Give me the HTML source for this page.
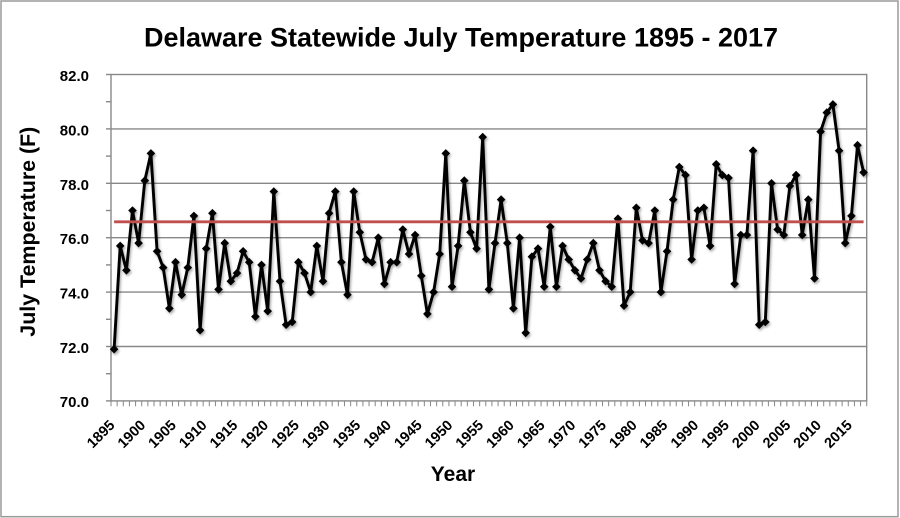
<!DOCTYPE html>
<html>
<head>
<meta charset="utf-8">
<style>
  html,body{margin:0;padding:0;background:#fff;}
  svg{display:block;}
  text{font-family:"Liberation Sans",Arial,sans-serif;font-weight:bold;fill:#000;}
</style>
</head>
<body>
<svg width="900" height="518" viewBox="0 0 900 518" xmlns="http://www.w3.org/2000/svg">
  <defs>
    <marker id="dm" markerUnits="userSpaceOnUse" markerWidth="12" markerHeight="12" refX="6" refY="6" viewBox="0 0 12 12" overflow="visible">
      <path d="M6,1.7 L10.3,6 L6,10.3 L1.7,6 Z" fill="#000"/>
    </marker>
    <filter id="sh" x="-5%" y="-5%" width="110%" height="115%">
      <feDropShadow dx="1.2" dy="1.8" stdDeviation="1.2" flood-color="#000" flood-opacity="0.35"/>
    </filter>
  </defs>

  <rect x="0" y="0" width="900" height="518" fill="#fff"/>
  <rect x="1" y="1" width="897" height="515.7" fill="none" stroke="#9a9a9a" stroke-width="1.5"/>

  <!-- Title -->
  <text x="461" y="46.7" font-size="27" text-anchor="middle" textLength="634" lengthAdjust="spacingAndGlyphs">Delaware Statewide July Temperature 1895 - 2017</text>

  <!-- Gridlines -->
  <g stroke="#888" stroke-width="1.4" fill="none">
    <line x1="111" y1="128.9" x2="866.7" y2="128.9"/>
    <line x1="111" y1="183.3" x2="866.7" y2="183.3"/>
    <line x1="111" y1="237.7" x2="866.7" y2="237.7"/>
    <line x1="111" y1="292.1" x2="866.7" y2="292.1"/>
    <line x1="111" y1="346.5" x2="866.7" y2="346.5"/>
    <rect x="111" y="74.5" width="755.7" height="326.4"/>
    <!-- y ticks -->
    <line x1="106" y1="74.5" x2="111" y2="74.5"/>
    <line x1="106" y1="101.7" x2="111" y2="101.7"/>
    <line x1="106" y1="128.9" x2="111" y2="128.9"/>
    <line x1="106" y1="156.1" x2="111" y2="156.1"/>
    <line x1="106" y1="183.3" x2="111" y2="183.3"/>
    <line x1="106" y1="210.5" x2="111" y2="210.5"/>
    <line x1="106" y1="237.7" x2="111" y2="237.7"/>
    <line x1="106" y1="264.9" x2="111" y2="264.9"/>
    <line x1="106" y1="292.1" x2="111" y2="292.1"/>
    <line x1="106" y1="319.3" x2="111" y2="319.3"/>
    <line x1="106" y1="346.5" x2="111" y2="346.5"/>
    <line x1="106" y1="373.7" x2="111" y2="373.7"/>
    <line x1="106" y1="400.9" x2="111" y2="400.9"/>
  </g>
  <!-- x ticks -->
  <line x1="110.5" y1="403.8" x2="867.5" y2="403.8" stroke="#888" stroke-width="5" stroke-dasharray="1 5.144"/>

  <!-- Y tick labels -->
  <g font-size="15" text-anchor="end">
    <text x="89" y="81">82.0</text>
    <text x="89" y="135.4">80.0</text>
    <text x="89" y="189.8">78.0</text>
    <text x="89" y="244.2">76.0</text>
    <text x="89" y="298.6">74.0</text>
    <text x="89" y="353">72.0</text>
    <text x="89" y="407.2">70.0</text>
  </g>

  <!-- Y axis title -->
  <text transform="translate(35,231.7) rotate(-90)" font-size="21" text-anchor="middle" textLength="210" lengthAdjust="spacingAndGlyphs">July Temperature (F)</text>

  <!-- X tick labels -->
  <g font-size="14.5" text-anchor="end">
    <text transform="translate(115.6,426) rotate(-45)">1895</text>
    <text transform="translate(146.3,426) rotate(-45)">1900</text>
    <text transform="translate(177,426) rotate(-45)">1905</text>
    <text transform="translate(207.7,426) rotate(-45)">1910</text>
    <text transform="translate(238.5,426) rotate(-45)">1915</text>
    <text transform="translate(269.2,426) rotate(-45)">1920</text>
    <text transform="translate(299.9,426) rotate(-45)">1925</text>
    <text transform="translate(330.6,426) rotate(-45)">1930</text>
    <text transform="translate(361.3,426) rotate(-45)">1935</text>
    <text transform="translate(392.1,426) rotate(-45)">1940</text>
    <text transform="translate(422.8,426) rotate(-45)">1945</text>
    <text transform="translate(453.5,426) rotate(-45)">1950</text>
    <text transform="translate(484.2,426) rotate(-45)">1955</text>
    <text transform="translate(514.9,426) rotate(-45)">1960</text>
    <text transform="translate(545.7,426) rotate(-45)">1965</text>
    <text transform="translate(576.4,426) rotate(-45)">1970</text>
    <text transform="translate(607.1,426) rotate(-45)">1975</text>
    <text transform="translate(637.8,426) rotate(-45)">1980</text>
    <text transform="translate(668.5,426) rotate(-45)">1985</text>
    <text transform="translate(699.3,426) rotate(-45)">1990</text>
    <text transform="translate(730,426) rotate(-45)">1995</text>
    <text transform="translate(760.7,426) rotate(-45)">2000</text>
    <text transform="translate(791.4,426) rotate(-45)">2005</text>
    <text transform="translate(822.1,426) rotate(-45)">2010</text>
    <text transform="translate(852.9,426) rotate(-45)">2015</text>
  </g>

  <!-- X axis title -->
  <text x="453" y="481" font-size="21" text-anchor="middle">Year</text>

  <!-- Data series -->
  <polyline filter="url(#sh)" fill="none" stroke="#000" stroke-width="2.9" stroke-linejoin="round"
    marker-start="url(#dm)" marker-mid="url(#dm)" marker-end="url(#dm)"
    points="114.1,349.2 120.2,245.9 126.4,270.3 132.5,210.5 138.6,243.1 144.8,180.6 150.9,153.4 157.1,251.3 163.2,267.6 169.4,308.4
175.5,262.2 181.7,294.8 187.8,267.6 193.9,215.9 200.1,330.2 206.2,248.6 212.4,213.2 218.5,289.4 224.7,243.1 230.8,281.2
237.0,273.1 243.1,251.3 249.2,262.2 255.4,316.6 261.5,264.9 267.7,311.1 273.8,191.5 280.0,281.2 286.1,324.7 292.2,322.0
298.4,262.2 304.5,273.1 310.7,292.1 316.8,245.9 323.0,281.2 329.1,213.2 335.3,191.5 341.4,262.2 347.5,294.8 353.7,191.5
359.8,232.3 366.0,259.5 372.1,262.2 378.3,237.7 384.4,283.9 390.6,262.2 396.7,262.2 402.8,229.5 409.0,254.0 415.1,235.0
421.3,275.8 427.4,313.9 433.6,292.1 439.7,254.0 445.8,153.4 452.0,286.7 458.1,245.9 464.3,180.6 470.4,232.3 476.6,248.6
482.7,137.1 488.9,289.4 495.0,243.1 501.1,199.6 507.3,243.1 513.4,308.4 519.6,237.7 525.7,332.9 531.9,256.7 538.0,248.6
544.2,286.7 550.3,226.8 556.4,286.7 562.6,245.9 568.7,259.5 574.9,270.3 581.0,278.5 587.2,259.5 593.3,243.1 599.5,270.3
605.6,281.2 611.7,286.7 617.9,218.7 624.0,305.7 630.2,292.1 636.3,207.8 642.5,240.4 648.6,243.1 654.8,210.5 660.9,292.1
667.0,251.3 673.2,199.6 679.3,167.0 685.5,175.1 691.6,259.5 697.8,210.5 703.9,207.8 710.1,245.9 716.2,164.3 722.3,175.1
728.5,177.9 734.6,283.9 740.8,235.0 746.9,235.0 753.1,150.7 759.2,324.7 765.3,322.0 771.5,183.3 777.6,229.5 783.8,235.0
789.9,186.0 796.1,175.1 802.2,235.0 808.3,199.6 814.5,278.5 820.6,131.6 826.8,112.6 832.9,104.4 839.1,150.7 845.2,243.1
851.4,215.9 857.5,145.2 863.6,172.4"/>

  <!-- Average line -->
  <line x1="114.1" y1="221.8" x2="863.6" y2="221.8" stroke="#c0504d" stroke-width="2.8"/>
</svg>
</body>
</html>
